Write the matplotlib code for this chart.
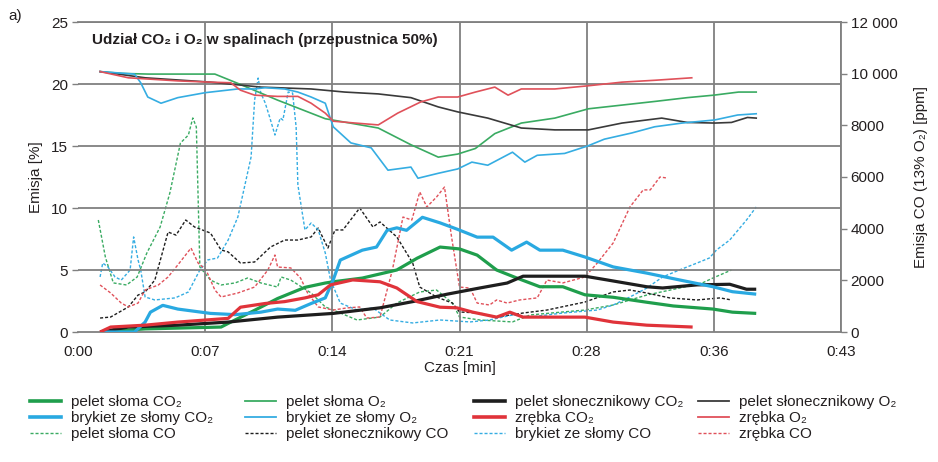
import matplotlib
matplotlib.use("Agg")
import matplotlib.pyplot as plt
from matplotlib import font_manager
from matplotlib.lines import Line2D

names = {f.name for f in font_manager.fontManager.ttflist}
FONT = 'Liberation Sans Narrow' if 'Liberation Sans Narrow' in names else 'Liberation Sans'
plt.rcParams['font.family'] = [FONT, 'DejaVu Sans']

# ---------------- data (time in minutes) ----------------
x_ticks = [0, 7.2, 14.4, 21.6, 28.8, 36.0, 43.2]
x_tick_labels = ["0:00", "0:07", "0:14", "0:21", "0:28", "0:36", "0:43"]
left_ticks = [0, 5, 10, 15, 20, 25]
right_ticks = [0, 2000, 4000, 6000, 8000, 10000, 12000]
right_tick_labels = ["0", "2000", "4000", "6000", "8000", "10 000", "12 000"]

# pelet słoma O2 [%]
ps_o2_t = [1.25, 2.5, 4.0, 7.75, 9.05, 11.3, 14.0, 17.0, 18.85, 20.4, 21.5, 22.5, 23.6, 25.1, 27.0, 28.9, 30.8, 32.7, 34.5, 36.0, 37.4, 38.4]
ps_o2 = [21.0, 20.85, 20.8, 20.8, 20.05, 18.7, 17.2, 16.45, 15.1, 14.1, 14.35, 14.8, 16.0, 16.85, 17.25, 18.0, 18.3, 18.6, 18.9, 19.1, 19.35, 19.35]
# pelet słonecznikowy O2 [%]
psl_o2_t = [1.25, 3.8, 7.5, 10.35, 13.2, 15.1, 17.0, 18.85, 20.4, 21.5, 23.2, 25.1, 27.0, 28.9, 30.8, 33.05, 34.5, 36.05, 37.0, 37.9, 38.4]
psl_o2 = [21.0, 20.5, 20.15, 19.75, 19.6, 19.35, 19.2, 18.9, 18.15, 17.75, 17.25, 16.45, 16.3, 16.3, 16.85, 17.25, 16.9, 16.85, 16.9, 17.3, 17.25]
# brykiet ze słomy O2 [%]
b_o2_t = [1.25, 3.2, 3.55, 3.95, 4.7, 5.65, 7.2, 9.05, 10.0, 10.6, 11.7, 12.45, 13.2, 14.0, 14.45, 15.45, 16.6, 17.55, 18.85, 19.25, 20.4, 21.5, 22.3, 23.2, 24.6, 25.3, 26.0, 27.55, 28.85, 29.8, 31.35, 32.65, 34.2, 36.05, 37.35, 38.4]
b_o2 = [21.0, 20.8, 20.1, 18.95, 18.45, 18.9, 19.3, 19.6, 19.6, 19.7, 19.6, 19.35, 18.95, 18.45, 16.55, 15.25, 14.85, 13.05, 13.3, 12.4, 12.8, 13.15, 13.7, 13.45, 14.5, 13.7, 14.25, 14.4, 15.0, 15.55, 16.05, 16.55, 16.85, 17.1, 17.5, 17.6]
# zrębka O2 [%]
z_o2_t = [1.25, 2.85, 5.65, 7.5, 8.65, 9.2, 10.0, 11.3, 12.45, 13.2, 14.0, 14.45, 15.7, 17.0, 18.1, 19.4, 20.4, 21.5, 22.5, 23.6, 24.35, 25.1, 27.0, 28.85, 30.8, 32.65, 34.75]
z_o2 = [21.0, 20.5, 20.25, 20.15, 20.1, 19.5, 19.1, 19.0, 19.0, 18.45, 17.65, 17.0, 16.85, 16.7, 17.65, 18.55, 18.95, 18.95, 19.35, 19.75, 19.1, 19.6, 19.6, 19.85, 20.15, 20.3, 20.5]

# pelet słoma CO2 [%]
ps_co2_t = [1.25, 3.8, 8.1, 8.65, 10.0, 11.3, 12.85, 14.0, 14.45, 16.1, 18.05, 19.2, 20.5, 21.6, 22.6, 23.7, 24.85, 26.15, 27.45, 28.7, 30.3, 32.2, 33.7, 35.95, 37.05, 38.4]
ps_co2 = [0.0, 0.25, 0.4, 0.8, 1.75, 2.7, 3.6, 3.95, 4.05, 4.35, 5.0, 5.95, 6.85, 6.7, 6.2, 5.0, 4.35, 3.65, 3.65, 3.0, 2.8, 2.4, 2.1, 1.85, 1.6, 1.5]
# brykiet ze słomy CO2 [%]
b_co2_t = [1.25, 3.2, 3.8, 4.1, 4.8, 5.65, 7.5, 8.9, 10.35, 11.3, 12.3, 13.2, 14.0, 14.45, 14.85, 16.1, 16.9, 17.5, 18.05, 18.6, 19.5, 20.5, 21.45, 22.6, 23.5, 24.55, 25.4, 26.15, 27.45, 28.7, 30.3, 32.2, 34.05, 35.95, 37.05, 38.4]
b_co2 = [0.0, 0.0, 0.8, 1.6, 2.15, 1.85, 1.5, 1.4, 1.6, 1.85, 1.75, 2.3, 2.75, 4.2, 5.8, 6.6, 6.85, 8.2, 8.4, 8.2, 9.25, 8.8, 8.3, 7.65, 7.65, 6.6, 7.25, 6.6, 6.6, 6.05, 5.25, 4.75, 4.2, 3.65, 3.25, 3.05]
# pelet słonecznikowy CO2 [%]
psl_co2_t = [1.25, 2.85, 5.65, 8.5, 11.3, 14.45, 17.1, 18.95, 20.9, 22.75, 24.3, 25.2, 27.45, 28.7, 29.95, 32.2, 33.1, 35.05, 36.9, 37.85, 38.4]
psl_co2 = [0.0, 0.4, 0.55, 0.8, 1.2, 1.5, 1.95, 2.45, 3.05, 3.55, 3.95, 4.5, 4.5, 4.5, 4.2, 3.65, 3.55, 3.8, 3.85, 3.45, 3.45]
# zrębka CO2 [%]
z_co2_t = [1.25, 1.85, 3.8, 5.65, 8.5, 9.2, 10.6, 11.7, 12.85, 13.6, 14.3, 15.55, 17.1, 18.05, 19.2, 20.5, 21.45, 22.35, 23.7, 24.45, 25.2, 26.55, 28.7, 30.3, 32.2, 34.8]
z_co2 = [0.0, 0.4, 0.55, 0.8, 1.1, 2.0, 2.3, 2.45, 2.75, 3.0, 3.8, 4.2, 4.05, 3.55, 2.45, 2.0, 1.95, 1.6, 1.2, 1.6, 1.2, 1.2, 1.2, 0.8, 0.55, 0.4]

# pelet słoma CO [ppm]
ps_co_t = [1.15, 1.55, 2.0, 2.75, 3.35, 3.9, 4.65, 5.2, 5.8, 6.25, 6.5, 6.7, 6.9, 7.5, 8.1, 8.9, 9.6, 10.35, 11.3, 11.5, 12.05, 13.2, 14.0, 14.45, 15.8, 17.1, 18.05, 19.35, 20.3, 21.2, 21.6, 22.75, 24.6, 25.6, 27.45, 28.7, 30.3, 32.2, 34.05, 35.35, 35.95, 37.0]
ps_co = [4335, 2900, 1900, 1820, 2130, 3060, 4065, 5380, 7315, 7625, 8285, 7935, 2515, 2010, 1820, 1900, 2090, 1900, 1740, 2130, 2010, 1510, 970, 850, 465, 580, 1120, 1550, 1625, 1120, 580, 465, 390, 660, 775, 850, 1045, 1430, 1700, 1900, 2090, 2400]
# pelet słonecznikowy CO [ppm]
psl_co_t = [1.25, 1.85, 2.85, 3.4, 3.8, 4.35, 5.1, 5.55, 6.1, 6.6, 7.5, 8.1, 8.5, 9.2, 10.0, 10.9, 11.7, 12.45, 13.2, 13.6, 14.15, 14.55, 15.0, 15.95, 16.7, 17.1, 18.05, 18.95, 19.35, 20.3, 21.2, 21.6, 22.75, 23.7, 25.2, 26.55, 28.7, 30.3, 31.25, 32.2, 33.5, 35.05, 36.35, 37.0]
psl_co = [540, 580, 970, 1430, 1550, 2010, 3870, 3750, 4335, 4065, 3830, 3175, 3100, 2670, 2710, 3290, 3560, 3560, 3680, 4025, 3250, 3950, 3950, 4800, 4065, 4260, 3680, 2670, 1740, 1355, 1120, 775, 735, 580, 735, 850, 1160, 1550, 1625, 1510, 1320, 1240, 1320, 1240]
# brykiet ze słomy CO [ppm]
b_co_t = [1.25, 1.4, 1.7, 2.1, 2.45, 2.95, 3.15, 3.4, 3.55, 3.8, 4.35, 5.5, 6.25, 6.9, 7.35, 7.9, 8.5, 9.05, 9.45, 9.8, 10.0, 10.2, 10.35, 10.6, 10.85, 11.15, 11.45, 11.6, 11.9, 12.15, 12.35, 12.45, 12.85, 13.2, 13.6, 14.0, 14.3, 14.85, 15.8, 16.7, 17.65, 18.95, 20.5, 22.2, 23.3, 24.6, 25.6, 27.45, 29.4, 30.3, 31.25, 32.2, 33.1, 34.05, 35.05, 35.75, 36.15, 36.9, 37.85, 38.4]
b_co = [2130, 2670, 2515, 2130, 2010, 2400, 3680, 2790, 2400, 1355, 1240, 1320, 1550, 2400, 2790, 2865, 3560, 4450, 5690, 6775, 8980, 9830, 9250, 8865, 8320, 7625, 8285, 8205, 9290, 9250, 7935, 5690, 3950, 4220, 3950, 3060, 2010, 1120, 850, 930, 465, 350, 465, 390, 465, 660, 580, 735, 850, 1045, 1355, 1700, 2130, 2400, 2670, 2865, 3175, 3560, 4335, 4840]
# zrębka CO [ppm]
z_co_t = [1.25, 1.85, 2.45, 2.85, 3.4, 3.8, 4.55, 5.1, 5.65, 6.4, 6.8, 7.25, 7.75, 8.1, 9.05, 10.0, 10.75, 11.15, 11.3, 12.05, 12.6, 13.0, 13.6, 14.45, 15.2, 15.95, 16.35, 17.1, 17.8, 18.4, 18.9, 19.35, 19.75, 20.3, 20.75, 21.15, 21.6, 22.2, 22.6, 23.3, 23.7, 24.3, 25.0, 26.0, 26.55, 27.45, 28.7, 29.4, 30.3, 31.25, 32.0, 32.4, 32.95, 33.35]
z_co = [1820, 1510, 1120, 970, 1120, 1625, 1820, 2130, 2595, 3250, 2670, 2400, 1625, 1355, 1510, 1740, 2400, 2980, 2515, 2480, 2090, 1510, 970, 850, 930, 970, 540, 580, 2400, 4450, 4335, 5420, 4840, 5225, 5610, 3680, 1740, 1700, 1120, 1045, 1240, 1120, 1240, 1320, 2010, 1900, 2130, 2670, 3445, 4840, 5500, 5500, 6000, 5960]

# ---------------- styles ----------------
GREEN = "#1f9e4c"
GREEN_T = "#3aab62"
BLUE = "#29a9e1"
BLUE_T = "#35ade2"
BLACK = "#1e1e1e"
BLACK_T = "#3a3a3a"
RED = "#e0333a"
RED_T = "#e0515a"
GRID = "#808080"
TXT = "#231f20"

LW_CO2 = 2.3
LW_O2 = 1.2
LW_CO = 1.0
DASH = (0, (2.2, 1.4))

fig = plt.figure(figsize=(9.38, 4.62), dpi=100)
ax = fig.add_axes([78 / 938, 1 - 332 / 462, (841 - 78) / 938, (332 - 22) / 462])
ax2 = ax.twinx()

ax.set_xlim(0, 43.2)
ax.set_ylim(0, 25)
ax2.set_ylim(0, 12000)

for xv in x_ticks[1:]:
    ax.axvline(xv, color=GRID, lw=1.3, zorder=0)
for yv in left_ticks[1:]:
    ax.axhline(yv, color=GRID, lw=1.3, zorder=0)

# dashed CO lines (right axis)
co_series = [
    (ps_co_t, ps_co, GREEN_T, "pelet słoma CO"),
    (psl_co_t, psl_co, BLACK, "pelet słonecznikowy CO"),
    (b_co_t, b_co, BLUE_T, "brykiet ze słomy CO"),
    (z_co_t, z_co, RED_T, "zrębka CO"),
]
for t, v, c, lab in co_series:
    ax2.plot(t, v, color=c, lw=LW_CO, linestyle=DASH, zorder=2)

o2_series = [
    (ps_o2_t, ps_o2, GREEN_T, "pelet słoma O₂"),
    (psl_o2_t, psl_o2, BLACK_T, "pelet słonecznikowy O₂"),
    (b_o2_t, b_o2, BLUE_T, "brykiet ze słomy O₂"),
    (z_o2_t, z_o2, RED_T, "zrębka O₂"),
]
co2_series = [
    (ps_co2_t, ps_co2, GREEN, "pelet słoma CO₂"),
    (psl_co2_t, psl_co2, BLACK, "pelet słonecznikowy CO₂"),
    (b_co2_t, b_co2, BLUE, "brykiet ze słomy CO₂"),
    (z_co2_t, z_co2, RED, "zrębka CO₂"),
]
for t, v, c, lab in o2_series:
    ax.plot(t, v, color=c, lw=LW_O2, zorder=3)
for t, v, c, lab in co2_series:
    ax.plot(t, v, color=c, lw=LW_CO2, zorder=4, solid_capstyle='butt')

ax.set_zorder(ax2.get_zorder() + 1)
ax.patch.set_visible(False)

# axes styling
for a in (ax, ax2):
    for s in a.spines.values():
        s.set_visible(False)
ax.spines['bottom'].set_visible(True)
ax.spines['bottom'].set_color(GRID)
ax.spines['bottom'].set_linewidth(1.3)
ax.spines['top'].set_visible(True)
ax.spines['top'].set_color(GRID)
ax.spines['top'].set_linewidth(1.3)
ax2.spines['right'].set_visible(True)
ax2.spines['right'].set_color(GRID)
ax2.spines['right'].set_linewidth(1.3)

FS = 11
ax.set_xticks(x_ticks)
ax.set_xticklabels(x_tick_labels)
ax.set_yticks(left_ticks)
ax.set_yticklabels([str(v) for v in left_ticks])
ax.tick_params(axis='x', length=0, pad=9, labelsize=FS, labelcolor=TXT)
ax.tick_params(axis='y', length=4, width=1.0, color=GRID, pad=3, labelsize=FS, labelcolor=TXT)
ax2.set_yticks(right_ticks)
ax2.set_yticklabels(right_tick_labels)
ax2.tick_params(axis='y', length=4, width=1.0, color=GRID, pad=3, labelsize=FS, labelcolor=TXT)

ax.set_xlabel("Czas [min]", fontsize=FS, color=TXT, labelpad=2)
ax.set_ylabel("Emisja [%]", fontsize=FS, color=TXT, labelpad=6)
ax2.set_ylabel("Emisja CO (13% O₂) [ppm]", fontsize=FS, color=TXT, labelpad=12)

fig.text(92 / 938, 1 - 40 / 462, "Udział CO₂ i O₂ w spalinach (przepustnica 50%)",
         fontsize=11, fontweight='bold', color=TXT, va='center', ha='left')
fig.text(8 / 938, 1 - 16 / 462, "a)", fontsize=11, color=TXT, va='center', ha='left')

# legends: four columns
def h(c, lw, ls='-'):
    return Line2D([0], [0], color=c, lw=lw, linestyle=ls)

columns = [
    (30, [(h(GREEN, 2.6), "pelet słoma CO₂"), (h(BLUE, 2.6), "brykiet ze słomy CO₂"), (h(GREEN_T, 1.0, DASH), "pelet słoma CO")]),
    (245, [(h(GREEN_T, 1.3), "pelet słoma O₂"), (h(BLUE_T, 1.3), "brykiet ze słomy O₂"), (h(BLACK, 1.0, DASH), "pelet słonecznikowy CO")]),
    (474, [(h(BLACK, 2.6), "pelet słonecznikowy CO₂"), (h(RED, 2.6), "zrębka CO₂"), (h(BLUE_T, 1.0, DASH), "brykiet ze słomy CO")]),
    (698, [(h(BLACK_T, 1.3), "pelet słonecznikowy O₂"), (h(RED_T, 1.3), "zrębka O₂"), (h(RED_T, 1.0, DASH), "zrębka CO")]),
]
for x0, items in columns:
    leg = fig.legend([i[0] for i in items], [i[1] for i in items],
                     loc='upper left', bbox_to_anchor=(x0 / 938, 1 - 395 / 462),
                     frameon=False, fontsize=FS, handlelength=2.0, handletextpad=0.7,
                     labelspacing=0.13, borderpad=0, borderaxespad=0)
    for txt in leg.get_texts():
        txt.set_color(TXT)

fig.savefig("out.png", dpi=100)
